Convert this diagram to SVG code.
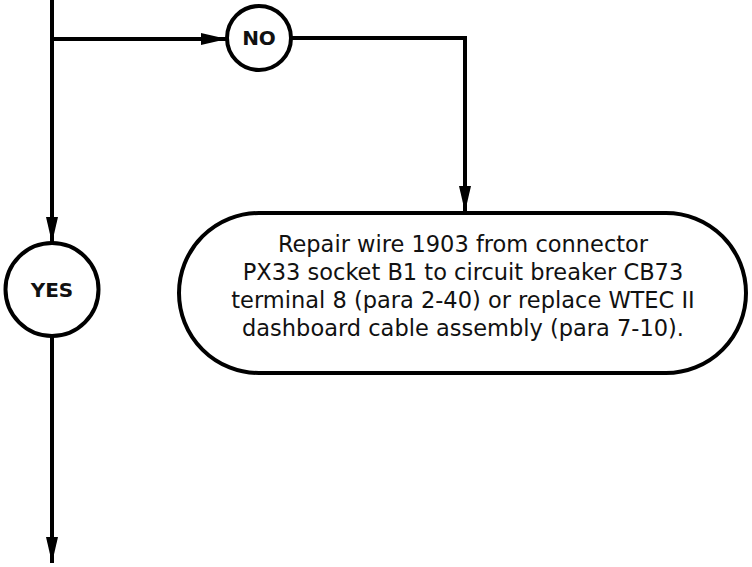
<svg xmlns="http://www.w3.org/2000/svg" width="752" height="567" viewBox="0 0 752 567">
<defs>
<style>
.ln{fill:none;stroke:#000;stroke-width:4}
.sh{fill:#fff;stroke:#000;stroke-width:4}
.lbl{font-family:"DejaVu Sans",Verdana,sans-serif;font-weight:bold;font-size:20px;text-anchor:middle;fill:#111}
.txt{font-family:"DejaVu Sans",Verdana,sans-serif;font-size:22.5px;text-anchor:middle;fill:#111}
</style>
<marker id="ah" viewBox="0 0 26 12" refX="26" refY="6" markerWidth="26" markerHeight="12" markerUnits="userSpaceOnUse" orient="auto">
<path d="M0,0 L26,6 L0,12 Z" fill="#000"/>
</marker>
</defs>
<g id="connectors">
<path class="ln" d="M52,0 V243" marker-end="url(#ah)"/>
<path class="ln" d="M52,39 H227" marker-end="url(#ah)"/>
<path class="ln" d="M291,38 H465 V212" marker-end="url(#ah)"/>
<path class="ln" d="M52,336 V563" marker-end="url(#ah)"/>
</g>
<g id="no">
<circle class="sh" cx="259" cy="38" r="32"/>
<text class="lbl" x="259" y="45">NO</text>
</g>
<g id="yes">
<circle class="sh" cx="52" cy="289.5" r="46.5"/>
<text class="lbl" x="52" y="297">YES</text>
</g>
<g id="repair">
<rect class="sh" x="179" y="213" width="567" height="160" rx="80" ry="80"/>
<text class="txt" x="463" y="252">Repair wire 1903 from connector</text>
<text class="txt" x="463" y="280">PX33 socket B1 to circuit breaker CB73</text>
<text class="txt" x="463" y="308">terminal 8 (para 2-40) or replace WTEC II</text>
<text class="txt" x="463" y="336">dashboard cable assembly (para 7-10).</text>
</g>
</svg>
